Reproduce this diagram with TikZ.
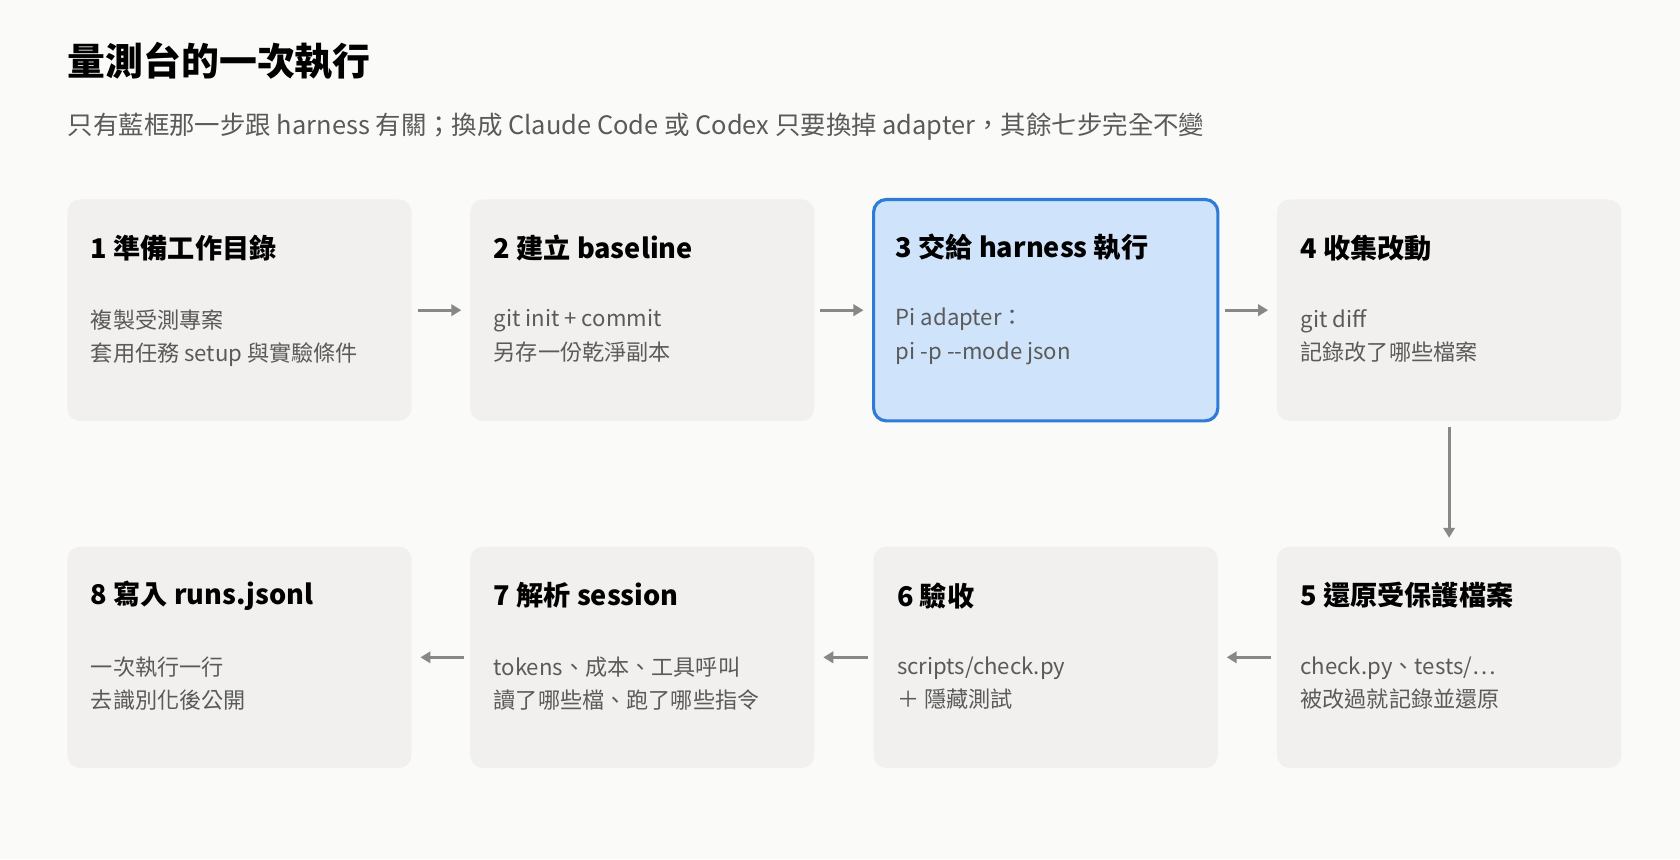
\documentclass[tikz,border=0pt]{standalone}
\usepackage{fontspec}
\setmainfont{Noto Sans CJK TC}
\usetikzlibrary{positioning,arrows.meta}
\definecolor{bgcol}{HTML}{FAFAF8}
\definecolor{boxcol}{HTML}{F1F0EE}
\definecolor{bluefill}{HTML}{CFE3FA}
\definecolor{blueline}{HTML}{2F7BD8}
\definecolor{bodycol}{HTML}{5A5A5A}
\definecolor{arrcol}{HTML}{888888}
\begin{document}
\begin{tikzpicture}[x=0.75pt,y=-0.75pt,
step box/.style={rounded corners=9pt,fill=boxcol,minimum width=241pt,minimum height=155pt,inner sep=0pt},
key box/.style={step box,fill=bluefill,draw=blueline,line width=2.2pt},
step title/.style={anchor=west,inner sep=0pt,font=\fontsize{19}{22}\selectfont\bfseries,text=black},
step body/.style={anchor=north west,inner sep=0pt,align=left,text=bodycol,font=\fontsize{15.5}{23.5}\selectfont},
flow/.style={-{Triangle[length=7pt,width=8pt]},draw=arrcol,line width=2pt,shorten <=4pt,shorten >=6pt}]

\fill[bgcol] (0,0) rectangle (1568,802);

\node[anchor=west,inner sep=0pt,font=\fontsize{26.5}{30}\selectfont\bfseries] (title) at (63,57) {量測台的一次執行};
\node[anchor=west,inner sep=0pt,text=bodycol,font=\fontsize{17.8}{21}\selectfont] (sub) at (63,118)
  {只有藍框那一步跟 harness 有關；換成 Claude Code 或 Codex 只要換掉 adapter，其餘七步完全不變};

% top row
\node[step box] (s1) at (223.5,289.5) {};
\node[step box] (s2) at (599.5,289.5) {};
\node[key box]  (s3) at (976,289.5) {};
\node[step box] (s4) at (1352.5,289.5) {};
% bottom row
\node[step box] (s8) at (223.5,613.5) {};
\node[step box] (s7) at (599.5,613.5) {};
\node[step box] (s6) at (976,613.5) {};
\node[step box] (s5) at (1352.5,613.5) {};

\foreach \s/\t/\a/\b in {s1/1 準備工作目錄/複製受測專案/套用任務 setup 與實驗條件,
  s2/2 建立 baseline/git init + commit/另存一份乾淨副本,
  s3/3 交給 harness 執行/Pi adapter：/pi -p -{}-mode json,
  s4/4 收集改動/git diff/記錄改了哪些檔案,
  s5/5 還原受保護檔案/{check.py、tests/…}/被改過就記錄並還原,
  s6/6 驗收/{scripts/check.py}/＋ 隱藏測試,
  s7/7 解析 session/tokens、成本、工具呼叫/讀了哪些檔、跑了哪些指令,
  s8/8 寫入 runs.jsonl/一次執行一行/去識別化後公開}{
  \node[step title] (\s t) at ([xshift=16.5pt,yshift=-34.5pt]\s.north west) {\t};
  \node[step body] (\s b) at ([xshift=16.5pt,yshift=-77pt]\s.north west) {\a\\\b};
}

\draw[flow] (s1) -- (s2);
\draw[flow] (s2) -- (s3);
\draw[flow] (s3) -- (s4);
\draw[flow] (s4) -- (s5);
\draw[flow] (s5) -- (s6);
\draw[flow] (s6) -- (s7);
\draw[flow] (s7) -- (s8);
\end{tikzpicture}
\end{document}
